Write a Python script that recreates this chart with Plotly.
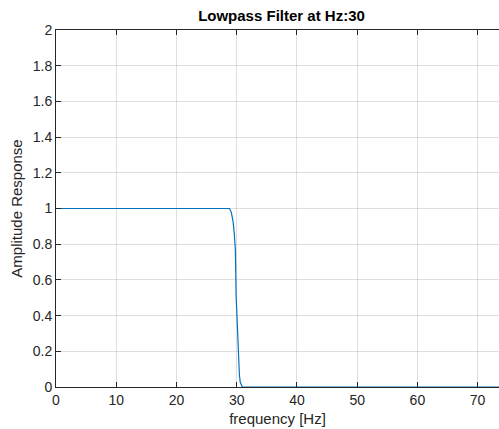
import plotly.graph_objects as go

# Frequency response samples of the lowpass filter (cutoff 30 Hz)
freq_hz = [0, 5, 10, 15, 20, 25, 27.0, 27.6, 28.2, 28.8, 29.1, 29.4, 29.6, 29.78,
           29.9, 30.05, 30.17, 30.3, 30.45, 30.6, 30.8, 30.95, 32, 40, 50, 60, 70, 75]
amplitude = [1.0, 1.0, 1.0, 1.0, 1.0, 1.0, 1.002, 0.998, 1.002, 1.0, 0.98, 0.926, 0.86, 0.768,
             0.515, 0.38, 0.254, 0.15, 0.067, 0.025, 0.005, 0.0, 0.0, 0.0, 0.0, 0.0, 0.0, 0.0]

x_ticks = [0, 10, 20, 30, 40, 50, 60, 70]
y_ticks = [0, 0.2, 0.4, 0.6, 0.8, 1.0, 1.2, 1.4, 1.6, 1.8, 2.0]

FONT = "Liberation Sans, Arial, Helvetica, sans-serif"
GRID = "rgba(38,38,38,0.15)"
INK = "#262626"

fig = go.Figure()
fig.add_trace(go.Scatter(
    x=freq_hz, y=amplitude, mode="lines",
    line=dict(color="#0072BD", width=1.2),
    showlegend=False, hoverinfo="skip",
))

fig.update_layout(
    width=499, height=429,
    margin=dict(l=56, r=0, t=30, b=42),
    paper_bgcolor="white", plot_bgcolor="white",
    font=dict(family=FONT, size=14, color=INK),
    title=dict(text="<b>Lowpass Filter at Hz:30</b>", x=0.509, xref="paper",
               xanchor="center", y=1 - 16 / 429, yref="container", yanchor="middle",
               font=dict(family=FONT, size=15, color="black")),
)

fig.update_xaxes(
    range=[0, 73.55], tickvals=x_ticks,
    showgrid=True, gridcolor=GRID, gridwidth=1, zeroline=False,
    showline=True, linecolor=INK, linewidth=1, mirror="ticks",
    ticks="inside", ticklen=5, tickcolor=INK,
    tickfont=dict(size=14, color=INK),
    title=dict(text="frequency [Hz]", font=dict(size=15, color=INK), standoff=6),
)
fig.update_yaxes(
    range=[0, 2], tickvals=y_ticks,
    showgrid=True, gridcolor=GRID, gridwidth=1, zeroline=False,
    showline=True, linecolor=INK, linewidth=1, mirror=False,
    ticks="inside", ticklen=5, tickcolor=INK,
    tickfont=dict(size=14, color=INK),
    title=dict(text="Amplitude Response", font=dict(size=15, color=INK), standoff=6),
)

fig.write_html("out.html")
